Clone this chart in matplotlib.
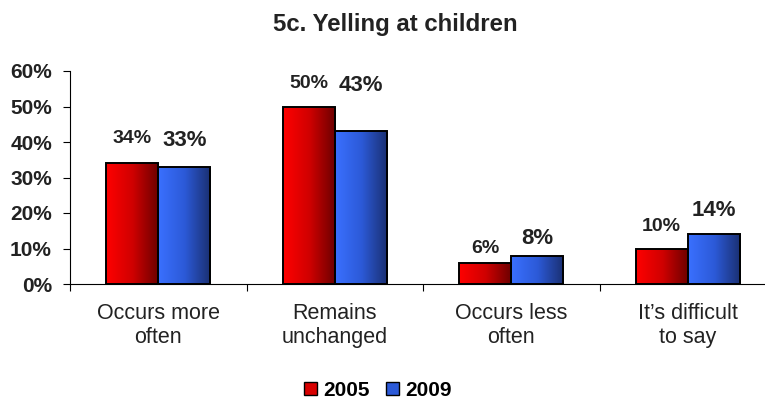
import numpy as np
import matplotlib
matplotlib.use('Agg')
import matplotlib.pyplot as plt
from matplotlib.patches import Patch
from matplotlib.colors import LinearSegmentedColormap

categories = ["Occurs more\noften", "Remains\nunchanged", "Occurs less\noften", "It\u2019s difficult\nto say"]
years = ["2005", "2009"]
vals_2005 = [34, 50, 6, 10]
vals_2009 = [33, 43, 8, 14]
yticks = [0, 10, 20, 30, 40, 50, 60]
# where the value labels sit (centre, in data units) - they were moved by hand in the original
label_y_2005 = [41.1, 56.5, 10.1, 16.3]
label_y_2009 = [40.5, 55.8, 12.7, 20.6]

plt.rcParams['font.family'] = ['Liberation Sans', 'DejaVu Sans']

red_cmap = LinearSegmentedColormap.from_list('r', ['#ff0000', '#d00000', '#6a0000'])
blue_cmap = LinearSegmentedColormap.from_list('b', ['#3a70ff', '#2c5ad8', '#1a2f70'])

fig = plt.figure(figsize=(7.65, 4.01), dpi=100)
ax = fig.add_axes([70 / 765, 117 / 401, 706 / 765, 213 / 401])

x = np.arange(len(categories)) + 0.5
w = 0.295
grad = np.linspace(0, 1, 256).reshape(1, -1)

series = [(vals_2005, label_y_2005, -w / 2, red_cmap, 14),
          (vals_2009, label_y_2009, w / 2, blue_cmap, 16)]
for vals, laby, offs, cmap, fs in series:
    bars = ax.bar(x + offs, vals, w, facecolor='none', edgecolor='black', linewidth=1.4, zorder=3)
    for b, v, ly in zip(bars, vals, laby):
        x0 = b.get_x()
        im = ax.imshow(grad, cmap=cmap, aspect='auto', extent=[x0, x0 + w, 0, v], zorder=2)
        im.set_clip_path(b)
        ax.text(x0 + w / 2, ly, f"{v}%", ha='center', va='center',
                fontsize=fs, fontweight='bold', color='#222222', clip_on=False)

ax.set_xlim(0, 4)
ax.set_ylim(0, 60)
ax.set_yticks(yticks)
ax.set_yticklabels([f"{t}%" for t in yticks], fontsize=15, fontweight='bold', color='#222222')
ax.set_xticks([0, 1, 2, 3, 4])
ax.set_xticklabels([])
ax.set_xticks(x, minor=True)
ax.set_xticklabels(categories, minor=True, fontsize=15.5, color='#222222', linespacing=1.15)
ax.tick_params(axis='x', which='minor', length=0, pad=14)
ax.tick_params(axis='x', which='major', length=5, direction='out')
ax.tick_params(axis='y', length=5, direction='out', pad=8)
for s in ['top', 'right']:
    ax.spines[s].set_visible(False)

fig.text(395 / 765, 1 - 25 / 401, "5c. Yelling at children", ha='center', va='center',
         fontsize=17.3, fontweight='bold', color='#222222')

handles = [Patch(facecolor='#d80000', edgecolor='black'), Patch(facecolor='#2c5ad8', edgecolor='black')]
fig.legend(handles, years, loc='center', bbox_to_anchor=(378 / 765, 1 - 390 / 401), ncol=2,
           frameon=False, prop={'weight': 'bold', 'size': 15}, handlelength=0.6, handleheight=0.6,
           handletextpad=0.3, columnspacing=0.8, borderpad=0)

fig.savefig('out.png', dpi=100)
